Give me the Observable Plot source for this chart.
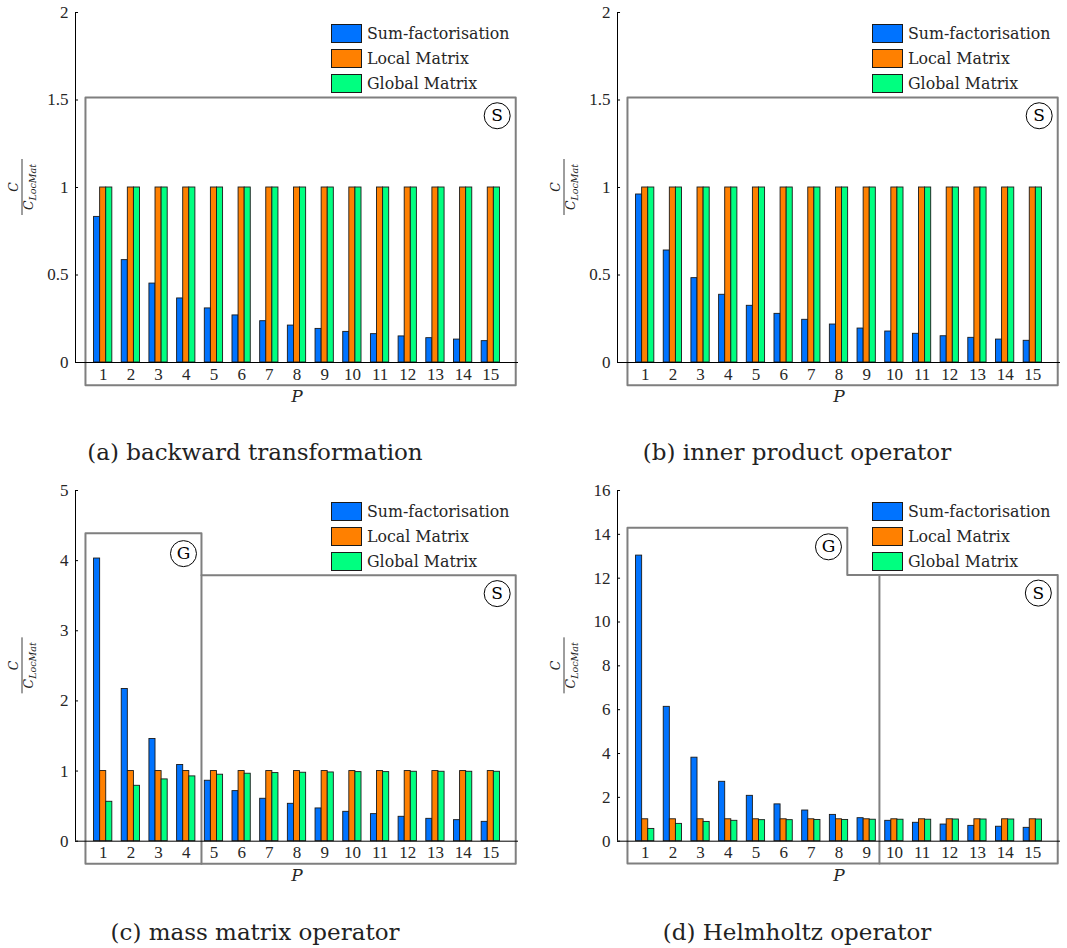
<!DOCTYPE html>
<html><head><meta charset="utf-8">
<script src="https://cdn.jsdelivr.net/npm/d3@7"></script>
<script src="https://cdn.jsdelivr.net/npm/@observablehq/plot@0.6"></script>
<style>
body{margin:0;background:#fff;}
#root{position:relative;width:1067px;height:948px;overflow:hidden;background:#fff;}
.panel{position:absolute;}
.panel svg text.num{font-family:"Liberation Serif","Times New Roman",serif !important;}
.legend{position:absolute;font-family:"DejaVu Serif",serif;font-size:15.8px;color:#262626;}
.legend .row{position:absolute;left:0;height:19px;display:flex;align-items:center;white-space:nowrap;}
.legend .sw{width:29px;height:17px;border:1px solid #1a1a1a;margin-right:5px;}
.caption{position:absolute;font-family:"DejaVu Serif",serif;font-size:23px;line-height:26px;transform:translateX(-50%);white-space:nowrap;color:#222;}
</style></head><body><div id="root"></div>
<script>
// ---- data ----
const P = [1,2,3,4,5,6,7,8,9,10,11,12,13,14,15];
const series = ["Sum-factorisation", "Local Matrix", "Global Matrix"];
const seriesColors = ["#0073ff", "#ff8000", "#00ff80"];

// (a) backward transformation
const sumA = [0.832,0.585,0.451,0.366,0.309,0.269,0.236,0.211,0.192,0.175,0.162,0.149,0.139,0.131,0.122];
const locA = [1,1,1,1,1,1,1,1,1,1,1,1,1,1,1];
const gloA = [1,1,1,1,1,1,1,1,1,1,1,1,1,1,1];
// (b) inner product operator
const sumB = [0.96,0.64,0.482,0.387,0.324,0.278,0.244,0.217,0.194,0.177,0.164,0.150,0.141,0.131,0.124];
const locB = [1,1,1,1,1,1,1,1,1,1,1,1,1,1,1];
const gloB = [1,1,1,1,1,1,1,1,1,1,1,1,1,1,1];
// (c) mass matrix operator
const sumC = [4.03,2.17,1.457,1.086,0.862,0.714,0.605,0.533,0.467,0.419,0.386,0.348,0.319,0.30,0.276];
const locC = [1,1,1,1,1,1,1,1,1,1,1,1,1,1,1];
const gloC = [0.562,0.79,0.881,0.924,0.948,0.962,0.971,0.976,0.98,0.985,0.985,0.99,0.99,0.99,0.99];
// (d) Helmholtz operator
const sumD = [13.03,6.13,3.81,2.71,2.07,1.68,1.40,1.20,1.05,0.93,0.84,0.76,0.70,0.66,0.61];
const locD = [1,1,1,1,1,1,1,1,1,1,1,1,1,1,1];
const gloD = [0.56,0.79,0.88,0.93,0.96,0.96,0.97,0.97,0.98,0.98,0.98,0.99,0.99,0.99,0.99];

const yTicksA = [0,0.5,1,1.5,2];
const yTicksC = [0,1,2,3,4,5];
const yTicksD = [0,2,4,6,8,10,12,14,16];

const captions = ["(a) backward transformation", "(b) inner product operator", "(c) mass matrix operator", "(d) Helmholtz operator"];

// region annotations (data units)
const regionsA = [{id:"S", pts:[[0.36,-0.13],[15.9,-0.13],[15.9,1.514],[0.36,1.514],[0.36,-0.13]]}];
const regionsC = [
  {id:"G", pts:[[4.55,-0.32],[0.36,-0.32],[0.36,4.39],[4.55,4.39],[4.55,-0.32]]},
  {id:"S", pts:[[4.55,3.79],[15.9,3.79],[15.9,-0.32],[4.55,-0.32]]}
];
const regionsD = [
  {id:"G", pts:[[0.36,-1.02],[0.36,14.3],[8.3,14.3],[8.3,12.15],[15.9,12.15],[15.9,-1.02],[0.36,-1.02]]},
  {id:"S", pts:[[9.46,12.15],[9.46,-1.02]]}
];
const badgesA = [{label:"S", x:15.23, y:1.41}];
const badgesC = [{label:"G", x:3.9, y:4.1}, {label:"S", x:15.23, y:3.53}];
const badgesD = [{label:"G", x:7.62, y:13.43}, {label:"S", x:15.2, y:11.32}];

// ---- build ----
function table(sum, loc, glo) {
  return P.flatMap((p, i) => [sum[i], loc[i], glo[i]].map((v, k) => ({P: p, k, series: series[k], value: v})));
}
const bw = 0.22;
const numFont = "'Liberation Serif', 'Times New Roman', serif";
const txtFont = "'DejaVu Serif', serif";
const root = document.getElementById("root");

function panel({sum, loc, glo, yDomain, yTicks, regions, badges, left, top, marginLeft, marginRight, marginBottom, legendTop, legendLeft}) {
  const data = table(sum, loc, glo);
  const pts = regions.flatMap(r => r.pts.map(([x, y]) => ({id: r.id, x, y})));
  const chart = Plot.plot({
    width: 533, height: 420,
    marginLeft, marginRight, marginTop: 12, marginBottom,
    x: {type: "linear", domain: [0, 16]},
    y: {domain: yDomain},
    color: {domain: series, range: seriesColors},
    style: {fontFamily: numFont, fontSize: "17px", color: "#262626", background: "transparent", overflow: "visible"},
    marks: [
      Plot.line(pts, {x: "x", y: "y", z: "id", stroke: "#7f7f7f", strokeWidth: 2, curve: "linear"}),
      Plot.rect(data, {
        x1: d => d.P + (d.k - 1) * bw - bw / 2,
        x2: d => d.P + (d.k - 1) * bw + bw / 2,
        y1: 0, y2: "value", fill: "series", stroke: "#1a1a1a", strokeWidth: 0.9
      }),
      Plot.ruleY([0], {stroke: "black", strokeWidth: 1}),
      Plot.ruleX([0], {stroke: "black", strokeWidth: 1}),
      Plot.ruleY(yTicks, {y: d => d, x1: 0, x2: 0.11, stroke: "black"}),
      Plot.axisY(yTicks, {tickSize: 0, tickPadding: 7, fontSize: 17, label: null, tickFormat: d => String(d)}),
      Plot.axisX(P, {tickSize: 0, tickPadding: 5, fontSize: 17, label: null, tickFormat: d => String(d)}),
      Plot.text(["P"], {frameAnchor: "bottom", lineAnchor: "middle", dy: 34, text: d => d, fontStyle: "italic", fontFamily: txtFont, fontSize: 17, fill: "#262626"}),
      Plot.dot(badges, {x: "x", y: "y", r: 13, stroke: "black", strokeWidth: 1, fill: "white"}),
      Plot.text(badges, {x: "x", y: "y", text: "label", fontFamily: txtFont, fontSize: 17, fill: "black"})
    ]
  });
  // make sure the numeric tick labels use the serif face
  d3.select(chart).selectAll('g[aria-label="y-axis tick label"] text, g[aria-label="x-axis tick label"] text')
    .classed("num", true).style("font-family", numFont);
  d3.select(chart).selectAll('g[aria-label="y-axis tick label"], g[aria-label="x-axis tick label"]')
    .style("font-family", numFont);

  const div = document.createElement("div");
  div.className = "panel";
  div.style.left = left + "px";
  div.style.top = top + "px";
  div.appendChild(chart);
  root.appendChild(div);

  // y label: C / C_LocMat (rotated fraction)
  const g = d3.select(chart).append("g")
    .attr("transform", `translate(${marginLeft - 53},${12 + (420 - 12 - marginBottom) / 2}) rotate(-90)`)
    .style("font-family", txtFont).attr("fill", "#262626");
  g.append("text").attr("x", 0).attr("y", -4).attr("text-anchor", "middle")
    .attr("font-style", "italic").attr("font-size", 12.5).text("C");
  g.append("line").attr("x1", -28).attr("x2", 28).attr("y1", 0).attr("y2", 0)
    .attr("stroke", "#262626").attr("stroke-width", 0.9);
  const den = g.append("text").attr("x", 0).attr("y", 11).attr("text-anchor", "middle").attr("font-style", "italic");
  den.append("tspan").attr("font-size", 12.5).text("C");
  den.append("tspan").attr("font-size", 9.5).attr("dy", 3).text("LocMat");

  // legend
  const leg = document.createElement("div");
  leg.className = "legend";
  leg.style.left = legendLeft + "px";
  leg.style.top = legendTop + "px";
  series.forEach((s, i) => {
    const row = document.createElement("div");
    row.className = "row";
    row.style.top = (i * 25) + "px";
    const sw = document.createElement("div");
    sw.className = "sw";
    sw.style.background = seriesColors[i];
    const t = document.createElement("span");
    t.textContent = s;
    row.appendChild(sw); row.appendChild(t);
    leg.appendChild(row);
  });
  root.appendChild(leg);
}

panel({sum: sumA, loc: locA, glo: gloA, yDomain: [0, 2], yTicks: yTicksA, regions: regionsA, badges: badgesA,
  left: 0, top: 0, marginLeft: 75, marginRight: 15, marginBottom: 58, legendLeft: 331, legendTop: 23.5});
panel({sum: sumB, loc: locB, glo: gloB, yDomain: [0, 2], yTicks: yTicksA, regions: regionsA, badges: badgesA,
  left: 534, top: 0, marginLeft: 83, marginRight: 7, marginBottom: 58, legendLeft: 872, legendTop: 23.5});
panel({sum: sumC, loc: locC, glo: gloC, yDomain: [0, 5], yTicks: yTicksC, regions: regionsC, badges: badgesC,
  left: 0, top: 478, marginLeft: 75, marginRight: 15, marginBottom: 57.3, legendLeft: 331, legendTop: 502});
panel({sum: sumD, loc: locD, glo: gloD, yDomain: [0, 16], yTicks: yTicksD, regions: regionsD, badges: badgesD,
  left: 534, top: 478, marginLeft: 83, marginRight: 7, marginBottom: 57.3, legendLeft: 872, legendTop: 502});

const capPos = [[255, 439], [797, 439], [255, 919], [797, 919]];
captions.forEach((c, i) => {
  const d = document.createElement("div");
  d.className = "caption";
  d.style.left = capPos[i][0] + "px";
  d.style.top = capPos[i][1] + "px";
  d.textContent = c;
  root.appendChild(d);
});
</script>
</body></html>
